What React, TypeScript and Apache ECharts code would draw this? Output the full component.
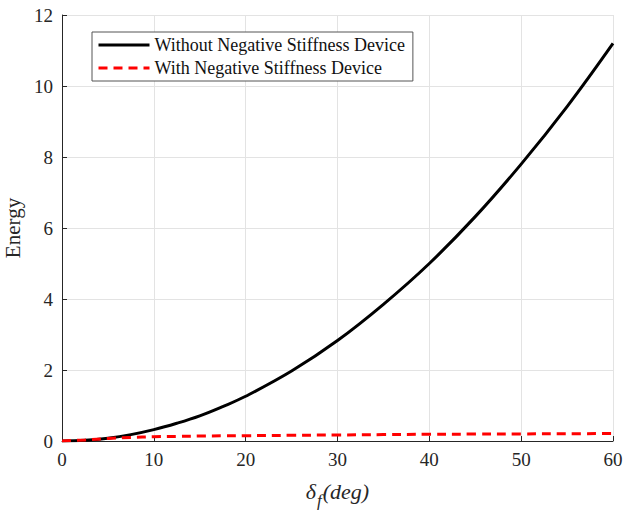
import React, { useEffect, useRef } from "react";
import * as echarts from "echarts";

// Flap deflection angle (deg)
const deflection = [0, 2.5, 5, 7.5, 10, 12.5, 15, 17.5, 20, 25, 30, 35, 40, 45, 50, 55, 60];
// Stored energy without the negative stiffness device
const energyWithout = [0, 0.02, 0.08, 0.18, 0.32, 0.5, 0.71, 0.97, 1.26, 1.97, 2.83, 3.85, 5.0, 6.32, 7.8, 9.42, 11.2];
// Stored energy with the negative stiffness device
const energyWith = [0, 0.03, 0.07, 0.1, 0.12, 0.13, 0.14, 0.145, 0.15, 0.16, 0.17, 0.18, 0.19, 0.195, 0.2, 0.205, 0.21];

const yTicks = [0, 2, 4, 6, 8, 10, 12];
const xTicks = [0, 10, 20, 30, 40, 50, 60];

const FONT = "'Liberation Serif', 'Times New Roman', Times, serif";

export default function App() {
  const ref = useRef<HTMLDivElement>(null);

  useEffect(() => {
    if (!ref.current) return;
    const chart = echarts.init(ref.current, undefined, { renderer: "svg" });
    const axisCommon = {
      axisLine: { show: true, lineStyle: { color: "#262626", width: 1 } },
      axisTick: { show: true, inside: true, length: 5, lineStyle: { color: "#262626" } },
      axisLabel: { fontFamily: FONT, fontSize: 19, color: "#262626", margin: 9 },
      splitLine: { show: true, lineStyle: { color: "#e3e3e3", width: 1 } },
    };
    chart.setOption({
      animation: false,
      backgroundColor: "#ffffff",
      textStyle: { fontFamily: FONT },
      grid: { left: 62, right: 11, top: 15, bottom: 69, containLabel: false, outerBoundsMode: "none" },
      legend: {
        orient: "vertical",
        left: 92,
        top: 32,
        itemWidth: 51,
        itemHeight: 14,
        itemGap: 5,
        padding: [4, 8, 4, 5],
        borderColor: "#555",
        borderWidth: 1,
        backgroundColor: "#ffffff",
        itemStyle: { opacity: 0 },
        textStyle: { fontFamily: FONT, fontSize: 18, color: "#111" },
        data: [
          { name: "Without Negative Stiffness Device", lineStyle: { width: 3, color: "#000000" } },
          { name: "With Negative Stiffness Device", lineStyle: { width: 3, color: "#ff0000", type: [9, 6] } },
        ],
      },
      xAxis: {
        type: "value",
        min: xTicks[0],
        max: xTicks[xTicks.length - 1],
        interval: 10,
        name: "{d|δ}{s|f}{p|(deg)}",
        nameLocation: "middle",
        nameGap: 33,
        nameTextStyle: {
          rich: {
            d: { fontFamily: FONT, fontSize: 22, fontStyle: "italic", color: "#262626" },
            s: { fontFamily: FONT, fontSize: 17, fontStyle: "italic", color: "#262626", padding: [18, 1, 0, 1] },
            p: { fontFamily: FONT, fontSize: 22, fontStyle: "italic", color: "#262626" },
          },
        },
        ...axisCommon,
      },
      yAxis: {
        type: "value",
        min: yTicks[0],
        max: yTicks[yTicks.length - 1],
        interval: 2,
        name: "Energy",
        nameLocation: "middle",
        nameGap: 35,
        nameTextStyle: { fontFamily: FONT, fontSize: 21, color: "#262626" },
        ...axisCommon,
      },
      series: [
        {
          name: "Without Negative Stiffness Device",
          type: "line",
          smooth: 0.4,
          symbol: "none",
          data: deflection.map((x, i) => [x, energyWithout[i]]),
          lineStyle: { color: "#000000", width: 3 },
          itemStyle: { color: "#000000" },
          z: 3,
        },
        {
          name: "With Negative Stiffness Device",
          type: "line",
          smooth: 0.4,
          symbol: "none",
          data: deflection.map((x, i) => [x, energyWith[i]]),
          lineStyle: { color: "#ff0000", width: 3, type: [9, 6] },
          itemStyle: { color: "#ff0000" },
          z: 4,
        },
      ],
    });
    return () => chart.dispose();
  }, []);

  return <div ref={ref} style={{ width: 624, height: 510, position: "absolute", left: 0, top: 0 }} />;
}
